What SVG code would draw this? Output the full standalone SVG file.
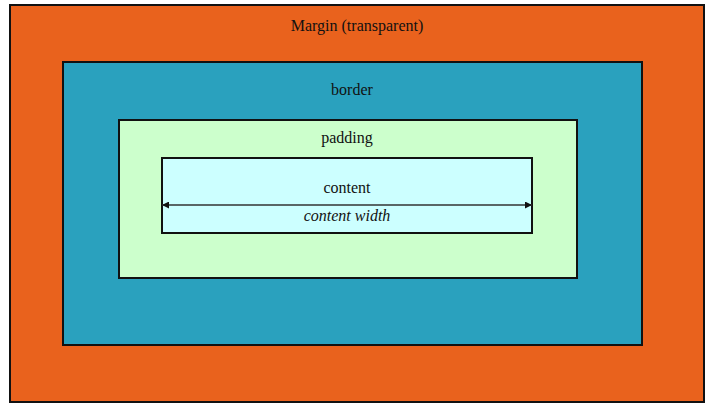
<svg xmlns="http://www.w3.org/2000/svg" width="716" height="413" viewBox="0 0 716 413">
<style>
.box{stroke:#111;stroke-width:2}
.t{font-family:"Liberation Serif",serif;font-size:16px;fill:#111;text-anchor:middle}
</style>
<defs>
<marker id="ah" viewBox="0 0 10 10" refX="10" refY="5" markerWidth="7" markerHeight="7" orient="auto-start-reverse" markerUnits="userSpaceOnUse">
<path d="M0,0 L10,5 L0,10 z" fill="#111"/>
</marker>
</defs>
<rect width="716" height="413" fill="#fff"/>
<g id="margin"><rect class="box" x="10" y="5" width="694" height="397" fill="#E9621D"/><text class="t" x="357" y="31">Margin (transparent)</text></g>
<g id="border"><rect class="box" x="63" y="62" width="579" height="283" fill="#2AA1BE"/><text class="t" x="352" y="95">border</text></g>
<g id="padding"><rect class="box" x="119" y="120" width="458" height="158" fill="#CCFFCC"/><text class="t" x="347" y="143">padding</text></g>
<g id="content"><rect class="box" x="162" y="158" width="370" height="75" fill="#CCFFFF"/><text class="t" x="347" y="193">content</text><text class="t" x="347" y="221" font-style="italic">content width</text></g>
<g id="connectors"><line x1="162" y1="205" x2="532" y2="205" stroke="#333" stroke-width="1.5" marker-start="url(#ah)" marker-end="url(#ah)"/></g>
</svg>
